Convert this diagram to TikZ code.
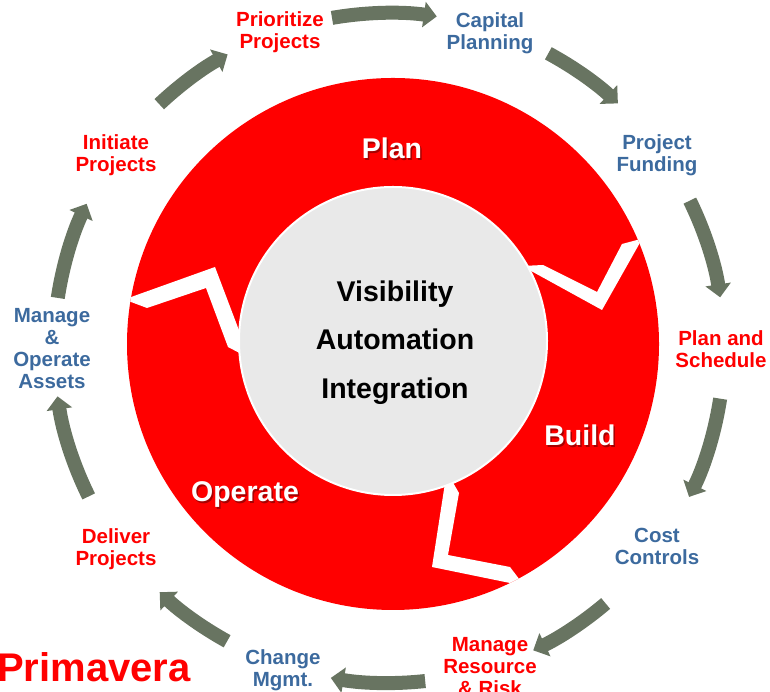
\documentclass[tikz,border=0pt]{standalone}
\usepackage{fontspec}
\setmainfont{Liberation Sans}
\usetikzlibrary{arrows.meta}
\definecolor{ringred}{HTML}{FF0000}
\definecolor{arrowgray}{HTML}{687461}
\definecolor{labelblue}{HTML}{3C6A9E}
\definecolor{centergray}{HTML}{E9E9E9}
\begin{document}
\begin{tikzpicture}[x=1pt,y=1pt,
  cyclearrow/.style={draw=arrowgray, line width=14pt, -{Triangle[width=25pt,length=13pt]}},
  outerlabel/.style={anchor=north, align=center, inner sep=0pt, font=\fontsize{20.5}{22}\selectfont\bfseries},
  redlabel/.style={outerlabel, text=ringred},
  bluelabel/.style={outerlabel, text=labelblue},
  bigfont/.style={font=\fontsize{28.5}{30}\selectfont\bfseries},
  phaselabel/.style={anchor=base, inner sep=0pt, text=white, bigfont},
  phaseshadow/.style={anchor=base, inner sep=0pt, text=black, opacity=0.35, bigfont},
  corelabel/.style={anchor=base, inner sep=0pt, text=black, bigfont}
]
\useasboundingbox (0,0) rectangle (770,692);
\coordinate (ringc) at (393,348);
\coordinate (corec) at (393,351);
\coordinate (cyc) at (389,344);

% red ring
\fill[ringred] (ringc) circle[radius=266];
\begin{scope}
  \clip (ringc) circle[radius=266];
  \fill[white] (120,391) -- (215,425) -- (251,330) -- (249,334) -- (228,345) -- (206,404) -- (147,384) -- (131,390) -- cycle;
  \fill[white] (522,426) -- (543,427) -- (597,400) -- (622,448) -- (652,456) -- (646,460) -- (602,382) -- cycle;
  \fill[white] (447,222) -- (432,125) -- (510,109) -- (530,104) -- (526,104) -- (510,125) -- (448,137) -- (459,199) -- (448,218) -- cycle;
\end{scope}
\filldraw[fill=centergray, draw=white, line width=2pt] (corec) circle[radius=154];

% phase labels
\node[phaseshadow] (planS) at (393.5,531.5) {Plan};
\node[phaselabel] (plan) at (392,533) {Plan};
\node[phaseshadow] (buildS) at (581.5,244.5) {Build};
\node[phaselabel] (build) at (580,246) {Build};
\node[phaseshadow] (operateS) at (246.5,188.5) {Operate};
\node[phaselabel] (operate) at (245,190) {Operate};

% core labels
\node[corelabel] (vis) at (395,390) {Visibility};
\node[corelabel] (auto) at (395,342) {Automation};
\node[corelabel] (integ) at (395,293) {Integration};

% outer labels
\node[redlabel]  (prio)   at (280,681) {Prioritize\\Projects};
\node[bluelabel] (capital) at (490,680) {Capital\\Planning};
\node[bluelabel] (funding) at (657,558) {Project\\Funding};
\node[redlabel]  (sched)  at (721,362) {Plan and\\Schedule};
\node[bluelabel] (cost)   at (657,164) {Cost\\Controls};
\node[redlabel]  (risk)   at (490,55) {Manage\\Resource\\\& Risk};
\node[bluelabel] (change) at (283,43) {Change\\Mgmt.};
\node[redlabel]  (deliver) at (116,164) {Deliver\\Projects};
\node[bluelabel] (assets) at (52,384) {Manage\\\&\\Operate\\Assets};
\node[redlabel]  (initiate) at (116,558) {Initiate\\Projects};

\node[anchor=base west, inner sep=0pt, text=ringred, font=\fontsize{40}{44}\selectfont\bfseries] (brand) at (-3,10) {Primavera};

% cycle arrows
\draw[cyclearrow] ([shift={(99.8:335)}]cyc) arc[start angle=99.8, end angle=81.8, radius=335];
\draw[cyclearrow] ([shift={(61.6:335)}]cyc) arc[start angle=61.6, end angle=46.9, radius=335];
\draw[cyclearrow] ([shift={(26.1:335)}]cyc) arc[start angle=26.1, end angle=8.7, radius=335];
\draw[cyclearrow] ([shift={(-8.7:335)}]cyc) arc[start angle=-8.7, end angle=-26.4, radius=335];
\draw[cyclearrow] ([shift={(-49.7:335)}]cyc) arc[start angle=-49.7, end angle=-64.5, radius=335];
\draw[cyclearrow] ([shift={(-83.8:335)}]cyc) arc[start angle=-83.8, end angle=-100, radius=335];
\draw[cyclearrow] ([shift={(-118.9:335)}]cyc) arc[start angle=-118.9, end angle=-133.2, radius=335];
\draw[cyclearrow] ([shift={(206.3:335)}]cyc) arc[start angle=206.3, end angle=188.3, radius=335];
\draw[cyclearrow] ([shift={(171.4:335)}]cyc) arc[start angle=171.4, end angle=154.5, radius=335];
\draw[cyclearrow] ([shift={(133.3:335)}]cyc) arc[start angle=133.3, end angle=118.8, radius=335];
\end{tikzpicture}
\end{document}
